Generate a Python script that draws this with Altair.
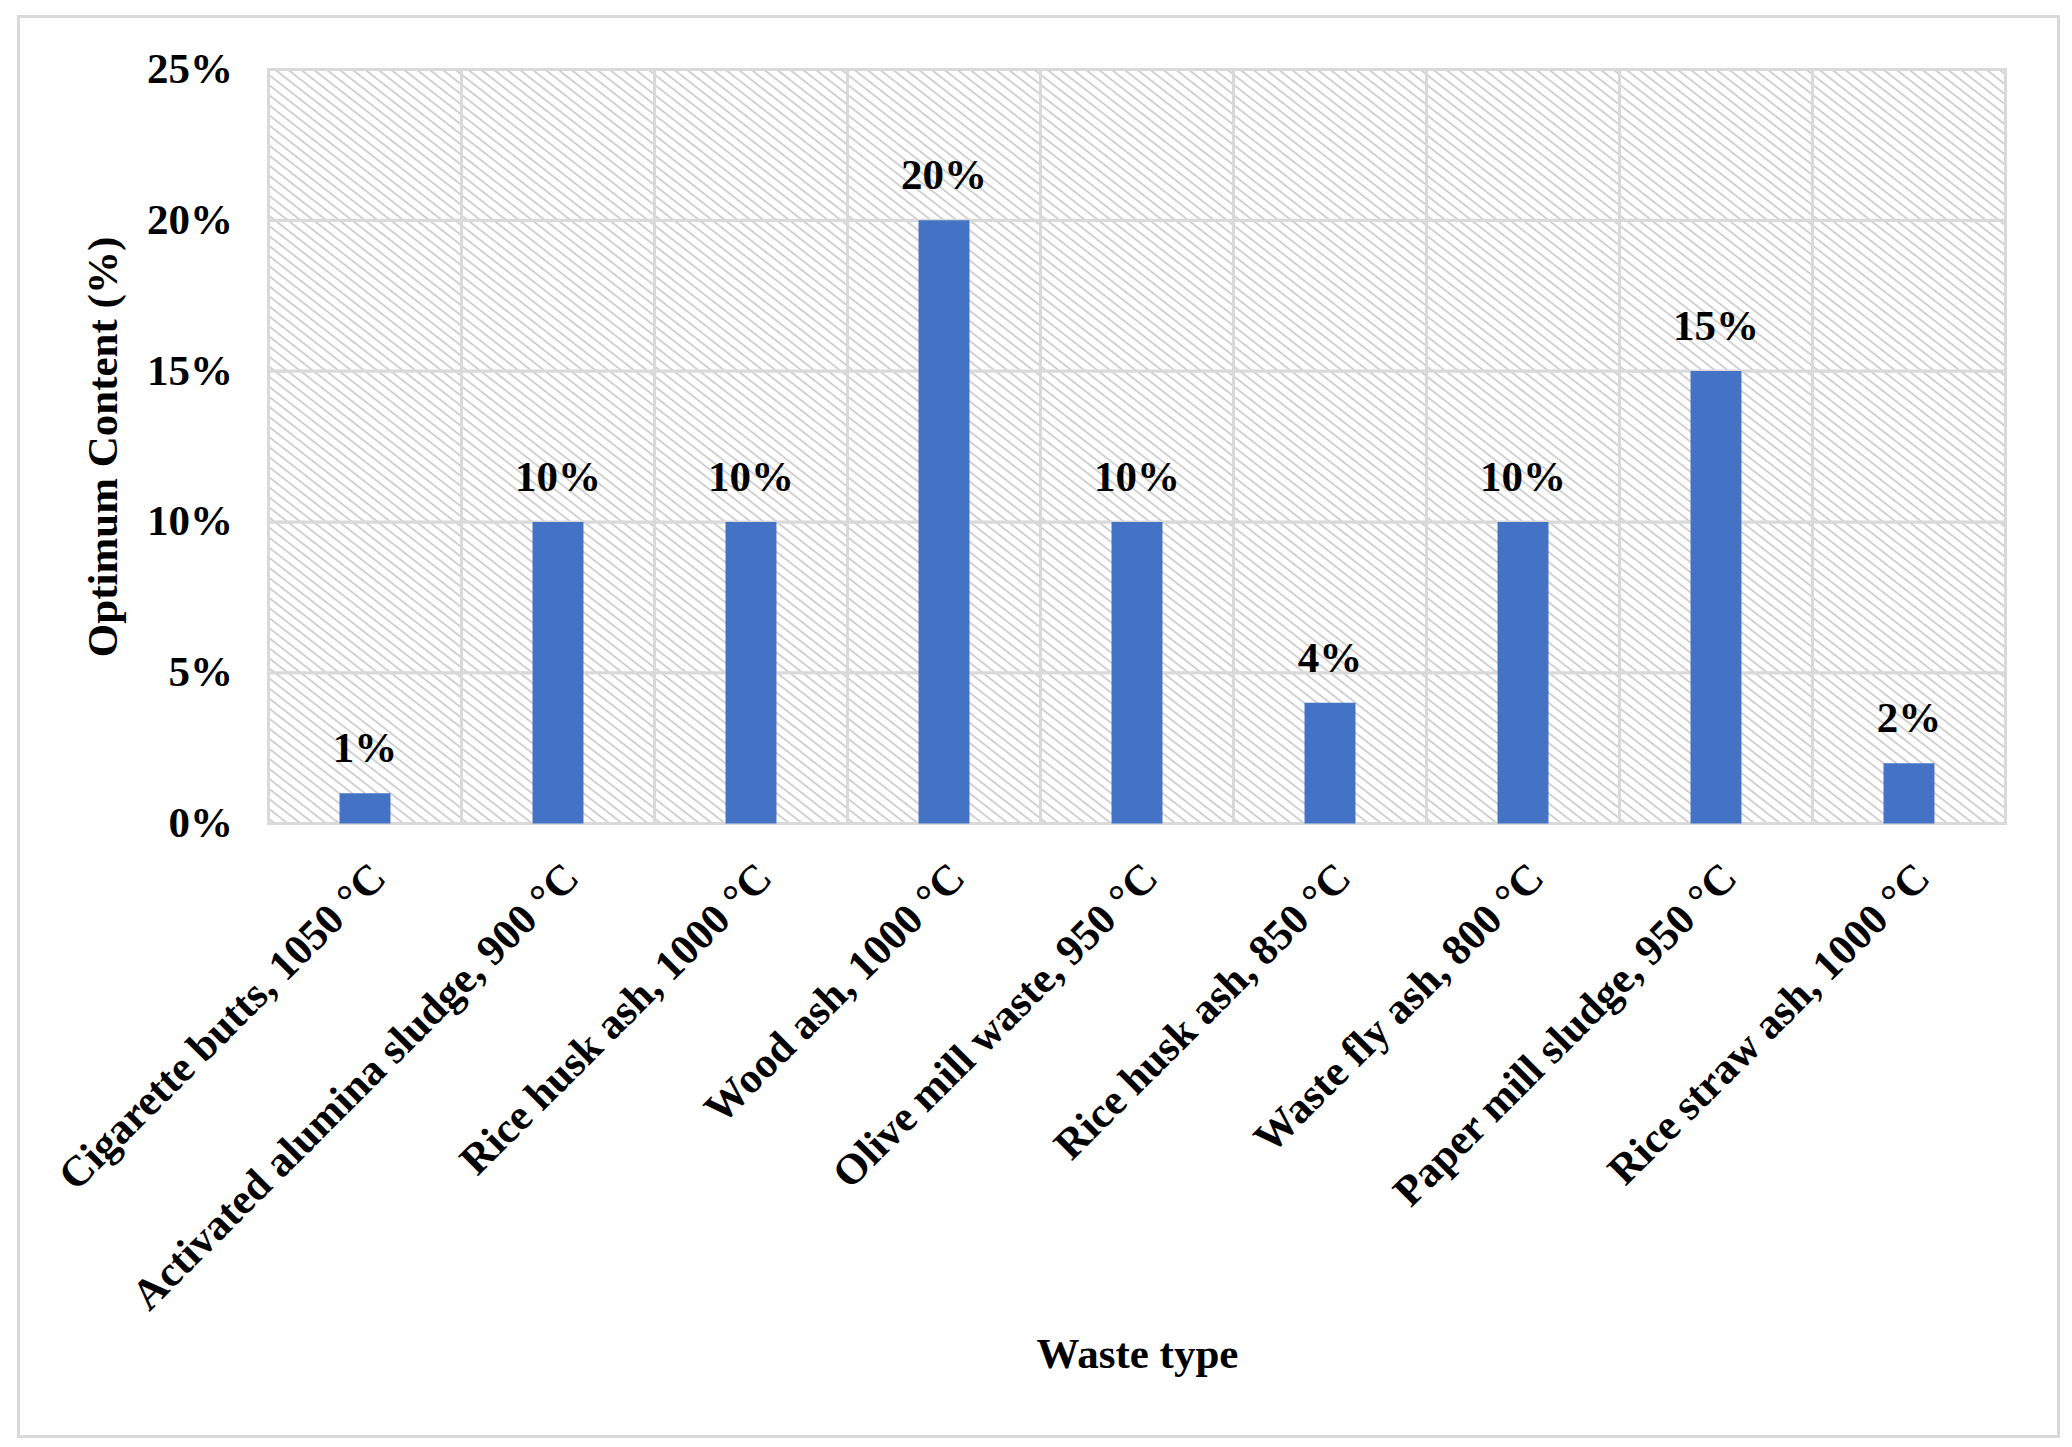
import math
import altair as alt
import pandas as pd

categories = [
    "Cigarette butts, 1050 °C",
    "Activated alumina sludge, 900 °C",
    "Rice husk ash, 1000 °C",
    "Wood ash, 1000 °C",
    "Olive mill waste, 950 °C",
    "Rice husk ash, 850 °C",
    "Waste fly ash, 800 °C",
    "Paper mill sludge, 950 °C",
    "Rice straw ash, 1000 °C",
]
values = [1, 10, 10, 20, 10, 4, 10, 15, 2]
y_ticks = [0, 5, 10, 15, 20, 25]

W, H = 1737, 754
FONT = "Liberation Serif"
FS = 43
GRID = "#d9d9d9"
BLUE = "#4472C4"

bars = pd.DataFrame({"cat": categories, "value": values,
                     "label": [f"{v}%" for v in values]})
cells = pd.DataFrame([
    {"cat": c, "y0": y_ticks[i], "y1": y_ticks[i + 1]}
    for c in categories for i in range(len(y_ticks) - 1)
])

# diagonal hatch pattern for the plot area, built as a striped gradient
cw, ch = W / len(categories), H / (len(y_ticks) - 1)
span = 2 / math.sqrt(1 / cw ** 2 + 1 / ch ** 2)
N = max(1, round(span / 8.0))
stops = []
for k in range(N):
    stops += [
        alt.GradientStop(offset=k / N, color="#ffffff"),
        alt.GradientStop(offset=(k + 0.3) / N, color="#ffffff"),
        alt.GradientStop(offset=(k + 0.5) / N, color="#c6c6c6"),
        alt.GradientStop(offset=(k + 0.7) / N, color="#ffffff"),
    ]
stops.append(alt.GradientStop(offset=1, color="#ffffff"))
hatch = alt.LinearGradient(gradient="linear", stops=stops, x1=0, y1=1, x2=1, y2=0)

x_axis = alt.Axis(
    title="Waste type", labelAngle=-45, labelAlign="right", labelBaseline="middle",
    labelOffset=14, labelPadding=47, labelLimit=2000, ticks=False, domain=False,
    grid=False, labelFont=FONT, labelFontSize=FS, labelFontWeight="bold",
    labelColor="black", titleFont=FONT, titleFontSize=FS, titleFontWeight="bold",
    titleColor="black", titleY=544, titleBaseline="alphabetic",
)
y_axis = alt.Axis(
    title="Optimum Content (%)", values=y_ticks, labelExpr="datum.value + '%'",
    ticks=False, domain=False, grid=False, labelPadding=36, labelFont=FONT,
    labelFontSize=FS, labelFontWeight="bold", labelColor="black",
    titleFont=FONT, titleFontSize=FS, titleFontWeight="bold", titleColor="black",
    titleX=-165, titleBaseline="middle",
)
x_scale = alt.Scale(domain=categories, paddingInner=0, paddingOuter=0)
y_scale = alt.Scale(domain=[0, 25], nice=False)

cell_layer = alt.Chart(cells).mark_rect(
    fill=hatch, stroke=GRID, strokeWidth=3
).encode(
    x=alt.X("cat:N", sort=categories, scale=x_scale, axis=x_axis),
    y=alt.Y("y0:Q", scale=y_scale, axis=y_axis),
    y2="y1:Q",
)

bar_layer = alt.Chart(bars).mark_bar(
    color=BLUE, width=alt.RelativeBandSize(0.264)
).encode(
    x=alt.X("cat:N", sort=categories, scale=x_scale, axis=x_axis),
    y=alt.Y("value:Q", scale=y_scale, axis=y_axis),
)

text_layer = alt.Chart(bars).mark_text(
    dy=-31, baseline="alphabetic", font=FONT, fontSize=FS, fontWeight="bold",
    color="black"
).encode(
    x=alt.X("cat:N", sort=categories, scale=x_scale, axis=x_axis),
    y=alt.Y("value:Q", scale=y_scale, axis=y_axis),
    text="label:N",
)

frame = alt.Chart(alt.Data(values=[{"frame": 1}])).mark_rect(
    filled=False, stroke=GRID, strokeWidth=3
).encode(
    x=alt.value(-250), x2=alt.value(1790), y=alt.value(-53), y2=alt.value(1367)
)

chart = alt.layer(cell_layer, bar_layer, text_layer, frame).properties(
    width=W, height=H,
    padding={"left": 8.5, "top": 6.5, "right": 0, "bottom": 0},
    background="white",
).configure_view(stroke=None)

chart.save("out.html", embed_options={"renderer": "svg", "actions": False})
